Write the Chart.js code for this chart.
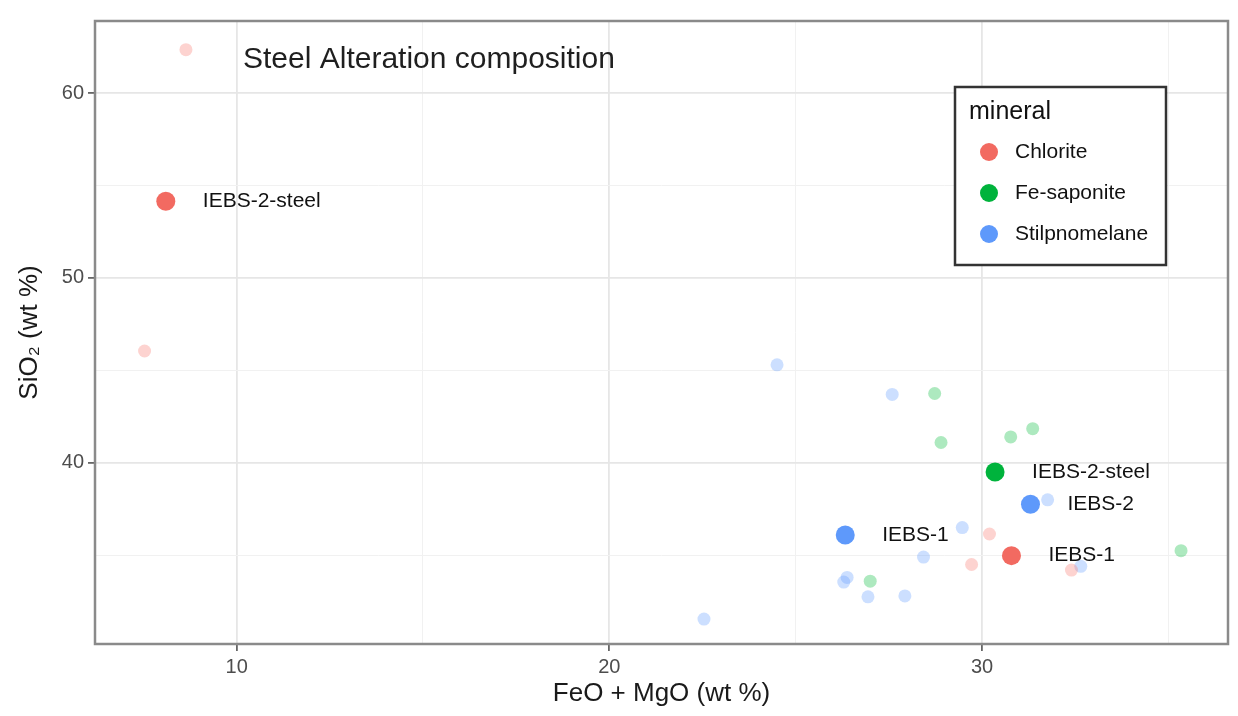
<!DOCTYPE html>
<html>
<head>
<meta charset="utf-8">
<title>Steel Alteration composition</title>
<script src="https://cdn.jsdelivr.net/npm/chart.js@4.4.1/dist/chart.umd.min.js"></script>
<style>
    html, body { margin: 0; padding: 0; background: #ffffff; }
    #scatter-chart { display: block; }
</style>
</head>
<body>
<canvas id="scatter-chart" width="1238" height="716"></canvas>
<script>
// minerals shown in the legend
var minerals = ['Chlorite', 'Fe-saponite', 'Stilpnomelane'];
var mineralColors = ['#f26a61', '#00b33c', '#5e99fb'];
var fadedColors = ['rgba(248, 118, 109, 0.32)', 'rgba(0, 186, 56, 0.32)', 'rgba(97, 156, 255, 0.32)'];

// all analyses (faded points), FeO + MgO and SiO2 in wt %
var chloriteFeoMgo = [8.64, 7.53, 30.2, 29.72, 32.4];
var chloriteSio2 = [62.35, 46.05, 36.15, 34.5, 34.2];
var saponiteFeoMgo = [28.73, 28.9, 30.77, 31.36, 35.34, 27.0];
var saponiteSio2 = [43.75, 41.1, 41.4, 41.85, 35.25, 33.6];
var stilpFeoMgo = [24.5, 27.59, 31.76, 29.47, 28.43, 26.38, 26.29, 26.94, 27.93, 22.54, 32.65];
var stilpSio2 = [45.3, 43.7, 38.0, 36.5, 34.9, 33.8, 33.55, 32.75, 32.8, 31.55, 34.4];

// labelled samples (big points)
var sampleNames = ['IEBS-2-steel', 'IEBS-1', 'IEBS-2-steel', 'IEBS-2', 'IEBS-1'];
var sampleMineral = [0, 0, 1, 2, 2];
var sampleFeoMgo = [8.1, 30.79, 30.35, 31.3, 26.33];
var sampleSio2 = [54.15, 34.98, 39.5, 37.76, 36.1];

// axis ticks
var xMajorTicks = [10, 20, 30];
var xMinorTicks = [15, 25, 35];
var yMajorTicks = [40, 50, 60];
var yMinorTicks = [35, 45, 55];

var fontName = '"Liberation Sans", Arial, sans-serif';

// function that joins two value arrays into chart points
function toPoints(xs, ys) {
    var points = [];
    for (var i = 0; i < xs.length; i++) {
        points.push({ x: xs[i], y: ys[i] });
    }
    return points;
}

// function that builds the tick list (majors + minors) for a scale
function buildTicks(majors, minors) {
    return majors.concat(minors).sort(function(a, b) { return a - b; }).map(function(v) {
        return { value: v };
    });
}

// plugin that draws panel border, title, point labels and legend box
var decorations = {
    id: 'decorations',
    afterDatasetsDraw: function(chart) {
        var ctx = chart.ctx;
        var area = chart.chartArea;
        ctx.save();
        // panel border
        ctx.strokeStyle = '#8a8a8a';
        ctx.lineWidth = 2.5;
        ctx.strokeRect(area.left, area.top, area.right - area.left, area.bottom - area.top);
        // title inside the panel
        ctx.fillStyle = '#1f1f1f';
        ctx.font = '30px ' + fontName;
        ctx.textBaseline = 'middle';
        ctx.textAlign = 'left';
        ctx.fillText('Steel Alteration composition', 243, 60);
        // sample labels next to the big points
        var meta = chart.getDatasetMeta(0);
        ctx.font = '21px ' + fontName;
        ctx.fillStyle = '#111111';
        for (var i = 0; i < meta.data.length; i++) {
            var el = meta.data[i];
            ctx.fillText(sampleNames[i], el.x + 37, el.y);
        }
        // legend box
        ctx.fillStyle = '#ffffff';
        ctx.fillRect(955, 87, 211, 178);
        ctx.strokeStyle = '#333333';
        ctx.lineWidth = 2.5;
        ctx.strokeRect(955, 87, 211, 178);
        ctx.fillStyle = '#111111';
        ctx.font = '25px ' + fontName;
        ctx.fillText('mineral', 969, 112);
        ctx.font = '21px ' + fontName;
        for (var j = 0; j < minerals.length; j++) {
            var cy = 152 + j * 41;
            ctx.beginPath();
            ctx.arc(989, cy, 9, 0, Math.PI * 2);
            ctx.fillStyle = mineralColors[j];
            ctx.fill();
            ctx.fillStyle = '#111111';
            ctx.fillText(minerals[j], 1015, cy);
        }
        ctx.restore();
    }
};

// function that prints the scatter chart
function printScatterChart() {
    var ctx = document.getElementById('scatter-chart').getContext('2d');
    var sampleColors = sampleMineral.map(function(m) { return mineralColors[m]; });

    new Chart(ctx, {
        type: 'scatter',
        data: {
            datasets: [{
                label: 'samples',
                data: toPoints(sampleFeoMgo, sampleSio2),
                backgroundColor: sampleColors,
                borderColor: sampleColors,
                pointRadius: 9.5,
                borderWidth: 0,
                order: 1
            }, {
                label: minerals[0],
                data: toPoints(chloriteFeoMgo, chloriteSio2),
                backgroundColor: fadedColors[0],
                borderColor: fadedColors[0],
                pointRadius: 6.5,
                borderWidth: 0,
                order: 2
            }, {
                label: minerals[1],
                data: toPoints(saponiteFeoMgo, saponiteSio2),
                backgroundColor: fadedColors[1],
                borderColor: fadedColors[1],
                pointRadius: 6.5,
                borderWidth: 0,
                order: 2
            }, {
                label: minerals[2],
                data: toPoints(stilpFeoMgo, stilpSio2),
                backgroundColor: fadedColors[2],
                borderColor: fadedColors[2],
                pointRadius: 6.5,
                borderWidth: 0,
                order: 2
            }]
        },
        options: {
            responsive: false,
            animation: false,
            layout: { padding: { top: 21, right: 10, left: 0, bottom: 0 } },
            plugins: {
                legend: { display: false },
                tooltip: { enabled: false }
            },
            scales: {
                x: {
                    type: 'linear',
                    min: 6.2,
                    max: 36.6,
                    afterBuildTicks: function(scale) { scale.ticks = buildTicks(xMajorTicks, xMinorTicks); },
                    afterFit: function(scale) { scale.height = 72; },
                    border: { display: false },
                    grid: {
                        color: function(c) { return xMajorTicks.indexOf(c.tick.value) >= 0 ? '#e6e6e6' : '#f1f1f1'; },
                        lineWidth: function(c) { return xMajorTicks.indexOf(c.tick.value) >= 0 ? 1.8 : 1; },
                        tickColor: function(c) { return xMajorTicks.indexOf(c.tick.value) >= 0 ? '#666666' : 'rgba(0,0,0,0)'; },
                        tickLength: 7
                    },
                    ticks: {
                        color: '#4d4d4d',
                        padding: 4,
                        font: { family: fontName, size: 20 },
                        callback: function(value) { return xMajorTicks.indexOf(value) >= 0 ? value : ''; }
                    },
                    title: {
                        display: true,
                        text: 'FeO + MgO (wt %)',
                        color: '#1a1a1a',
                        font: { family: fontName, size: 26 },
                        padding: { top: 0, bottom: 7 }
                    }
                },
                y: {
                    type: 'linear',
                    min: 30.2,
                    max: 63.9,
                    afterBuildTicks: function(scale) { scale.ticks = buildTicks(yMajorTicks, yMinorTicks); },
                    afterFit: function(scale) { scale.width = 95; },
                    border: { display: false },
                    grid: {
                        color: function(c) { return yMajorTicks.indexOf(c.tick.value) >= 0 ? '#e6e6e6' : '#f1f1f1'; },
                        lineWidth: function(c) { return yMajorTicks.indexOf(c.tick.value) >= 0 ? 1.8 : 1; },
                        tickColor: function(c) { return yMajorTicks.indexOf(c.tick.value) >= 0 ? '#666666' : 'rgba(0,0,0,0)'; },
                        tickLength: 7
                    },
                    ticks: {
                        color: '#4d4d4d',
                        padding: 4,
                        font: { family: fontName, size: 20 },
                        callback: function(value) { return yMajorTicks.indexOf(value) >= 0 ? value : ''; }
                    },
                    title: {
                        display: true,
                        text: 'SiO\u2082 (wt %)',
                        color: '#1a1a1a',
                        font: { family: fontName, size: 26 },
                        padding: { top: 14, bottom: 0 }
                    }
                }
            }
        },
        plugins: [decorations]
    });
}

printScatterChart();
</script>
</body>
</html>
